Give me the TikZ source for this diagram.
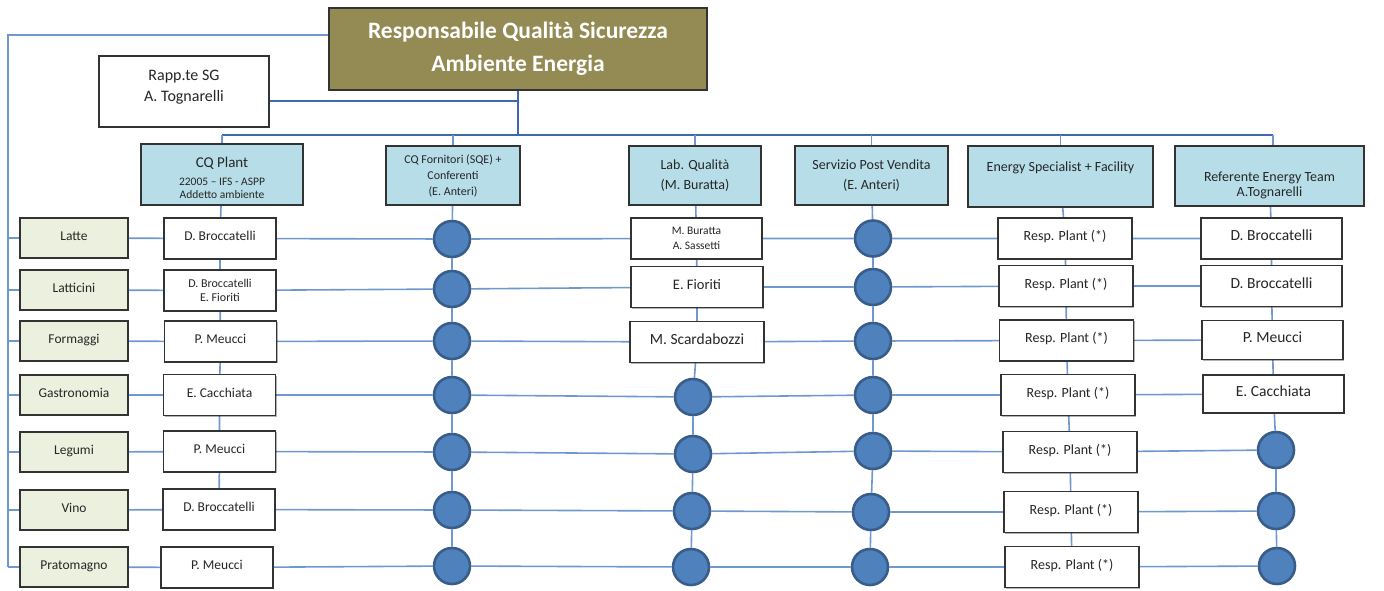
\documentclass[tikz,border=0pt]{standalone}
\usepackage{fontspec}
\setmainfont{Carlito}
\usetikzlibrary{shadows,backgrounds}

\definecolor{topfill}{HTML}{948A54}
\definecolor{hdrfill}{HTML}{B7DEE8}
\definecolor{catfill}{HTML}{EBF1DE}
\definecolor{dotfill}{HTML}{4F81BD}
\definecolor{dotedge}{HTML}{385D8A}
\definecolor{linkblue}{HTML}{6E98CF}
\definecolor{busblue}{HTML}{3D6AAA}
\definecolor{boxedge}{HTML}{333333}
\definecolor{ink}{HTML}{262626}

\tikzset{
  shade box/.style={drop shadow={shadow xshift=1.2pt,shadow yshift=-1.2pt,opacity=0.3,fill=black}},
  orgbox/.style={draw=boxedge,line width=1.3pt,fill=white,inner sep=0pt,align=center,shade box,text=ink},
  oneline/.style={text height=9.5pt,text depth=5pt},
  person/.style={orgbox,minimum width=112pt,minimum height=41pt,font=\fontsize{13.5}{16}\selectfont},
  twoline/.style={font=\fontsize{12}{14}\selectfont},
  catbox/.style={orgbox,fill=catfill,minimum width=108pt,minimum height=40pt,font=\fontsize{13.5}{16}\selectfont,oneline},
  hdrbox/.style={orgbox,fill=hdrfill,font=\fontsize{14}{20}\selectfont},
  respbox/.style={orgbox,minimum width=134pt,minimum height=41pt,font=\fontsize{14}{16}\selectfont,oneline},
  refbox/.style={person,oneline,minimum width=141pt,font=\fontsize{15.5}{18}\selectfont},
  dotnode/.style={circle,draw=dotedge,fill=dotfill,line width=2.6pt,minimum size=36pt,inner sep=0pt},
  link/.style={draw=linkblue,line width=1.6pt},
  busline/.style={draw=busblue,line width=2.2pt},
}

\begin{document}
\begin{tikzpicture}[x=1pt,y=-1pt]
\useasboundingbox (0,0) rectangle (1384,590);

% management
\node[orgbox,fill=topfill,text=white,minimum width=378pt,minimum height=82pt,
      font=\fontsize{23.5}{33}\selectfont\bfseries] (top) at (518,49)
  {Responsabile Qualità Sicurezza\\Ambiente Energia};
\node[orgbox,minimum width=170pt,minimum height=71pt,font=\fontsize{16}{21}\selectfont] (rapp) at (184,91.5)
  {Rapp.te SG\\A. Tognarelli\\[-9pt]\mbox{}};

% function headers
\node[hdrbox,minimum width=162pt,minimum height=61pt,font=\fontsize{11.5}{13}\selectfont] (hcq) at (222,174.5)
  {\rule{0pt}{17pt}{\fontsize{15}{18}\selectfont CQ Plant}\\[5pt]
   22005 – IFS - ASPP\\
   Addetto ambiente};
\node[hdrbox,minimum width=134pt,minimum height=59pt,font=\fontsize{12}{16}\selectfont] (hf) at (453,175.5)
  {CQ Fornitori (SQE) +\\Conferenti\\(E. Anteri)};
\node[hdrbox,minimum width=132pt,minimum height=59pt] (hl) at (695,175.5)
  {Lab. Qualità\\(M. Buratta)};
\node[hdrbox,minimum width=153pt,minimum height=59pt] (hs) at (871.5,175.5)
  {Servizio Post Vendita\\(E. Anteri)};
\node[hdrbox,minimum width=185pt,minimum height=61pt,text height=20pt,text depth=31pt] (he) at (1060.5,176.5)
  {Energy Specialist + Facility};
\node[hdrbox,minimum width=189pt,minimum height=60pt,font=\fontsize{14}{15}\selectfont] (hr) at (1269.5,176)
  {\rule{0pt}{29pt}Referente Energy Team\\A.Tognarelli};

% product lines
\node[catbox] (c1) at (74,238) {Latte};
\node[catbox] (c2) at (74,290) {Latticini};
\node[catbox] (c3) at (74,341) {Formaggi};
\node[catbox] (c4) at (74,395) {Gastronomia};
\node[catbox] (c5) at (74,452) {Legumi};
\node[catbox] (c6) at (74,510) {Vino};
\node[catbox] (c7) at (74,567) {Pratomagno};

% CQ Plant column
\node[person,oneline] (q1) at (220,238.5) {D. Broccatelli};
\node[person,twoline] (q2) at (220,290.5) {D. Broccatelli\\E. Fioriti};
\node[person,oneline] (q3) at (220.5,341.5) {P. Meucci};
\node[person,oneline] (q4) at (219.5,395) {E. Cacchiata};
\node[person,oneline] (q5) at (219.5,451.5) {P. Meucci};
\node[person,oneline] (q6) at (219,509.5) {D. Broccatelli};
\node[person,oneline] (q7) at (217,567.5) {P. Meucci};

% CQ Fornitori column
\node[dotnode] (f1) at (452,239) {};
\node[dotnode] (f2) at (452,289) {};
\node[dotnode] (f3) at (452,341) {};
\node[dotnode] (f4) at (452,395) {};
\node[dotnode] (f5) at (452,452) {};
\node[dotnode] (f6) at (452,510) {};
\node[dotnode] (f7) at (452,566) {};

% Lab. Qualità column
\node[person,minimum width=131pt,font=\fontsize{11.5}{15}\selectfont] (l1) at (696.5,238.5) {M. Buratta\\A. Sassetti};
\node[person,oneline,minimum width=132pt,font=\fontsize{14.5}{16}\selectfont] (l2) at (697,287) {E. Fioriti};
\node[person,oneline,minimum width=134pt,font=\fontsize{15.5}{18}\selectfont] (l3) at (697,342) {M. Scardabozzi};
\node[dotnode] (l4) at (693,397) {};
\node[dotnode] (l5) at (693,454) {};
\node[dotnode] (l6) at (692,511) {};
\node[dotnode] (l7) at (691,567) {};

% Servizio Post Vendita column
\node[dotnode] (s1) at (873,238.5) {};
\node[dotnode] (s2) at (873,287) {};
\node[dotnode] (s3) at (873,341) {};
\node[dotnode] (s4) at (873,395) {};
\node[dotnode] (s5) at (873,451) {};
\node[dotnode] (s6) at (871,512) {};
\node[dotnode] (s7) at (870,567) {};

% Energy Specialist column
\node[respbox] (e1) at (1065,238.5) {Resp. Plant (*)};
\node[respbox] (e2) at (1066,286) {Resp. Plant (*)};
\node[respbox] (e3) at (1066.5,340.5) {Resp. Plant (*)};
\node[respbox] (e4) at (1068,395) {Resp. Plant (*)};
\node[respbox] (e5) at (1070,452) {Resp. Plant (*)};
\node[respbox] (e6) at (1071,512) {Resp. Plant (*)};
\node[respbox] (e7) at (1072,567) {Resp. Plant (*)};

% Referente Energy Team column
\node[refbox] (r1) at (1271.5,238.5) {D. Broccatelli};
\node[refbox] (r2) at (1271.5,286) {D. Broccatelli};
\node[refbox,minimum height=39pt] (r3) at (1272.5,340) {P. Meucci};
\node[refbox,minimum height=38pt] (r4) at (1273.5,394) {E. Cacchiata};
\node[dotnode] (r5) at (1276,450) {};
\node[dotnode] (r6) at (1276,511) {};
\node[dotnode] (r7) at (1277,566) {};

\begin{scope}[on background layer]
  % reporting lines from the top
  \coordinate (busy) at (521,135);
  \coordinate (leftx) at (8,0);
  \draw[busline] ([yshift=-9.5pt]rapp.east) -- ([yshift=-9.5pt]rapp.east -| top.south);
  \draw[busline] (top.south) -- (top.south |- busy);
  \draw[busline] (hcq.north |- busy) -- ([xshift=3.5pt]hr.north |- busy);
  \foreach \h in {hcq,hf,hl,hs,he}
    \draw[link] (\h.north |- busy) -- (\h.north);
  \draw[link] ([xshift=3.5pt]hr.north |- busy) -- ([xshift=3.5pt]hr.north);
  \draw[link] ([yshift=14pt]top.west) -| (leftx |- c7.west);
  \foreach \i in {1,...,7}
    \draw[link] (leftx |- c\i.west) -- (c\i.west);

  % column links
  \draw[link] (hcq) -- (q1) -- (q2) -- (q3) -- (q4) -- (q5) -- (q6);
  \draw[link] (hf) -- (f1) -- (f2) -- (f3) -- (f4) -- (f5) -- (f6) -- (f7);
  \draw[link] (hl) -- (l1) -- (l2) -- (l3) -- (l4) -- (l5) -- (l6) -- (l7);
  \draw[link] (hs) -- (s1) -- (s2) -- (s3) -- (s4) -- (s5) -- (s6) -- (s7);
  \draw[link] (he) -- (e1) -- (e2) -- (e3) -- (e4) -- (e5) -- (e6) -- (e7);
  \draw[link] (hr) -- (r1) -- (r2) -- (r3) -- (r4) -- (r5) -- (r6) -- (r7);

  % row links
  \foreach \i in {1,...,7}
    \draw[link] (c\i) -- (q\i) -- (f\i) -- (l\i) -- (s\i) -- (e\i) -- (r\i);
\end{scope}
\end{tikzpicture}
\end{document}
